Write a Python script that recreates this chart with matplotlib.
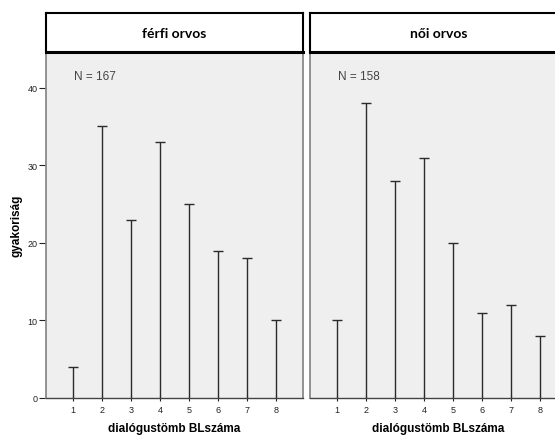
import matplotlib

matplotlib.use("Agg")
import matplotlib.pyplot as plt

categories = [1, 2, 3, 4, 5, 6, 7, 8]
ferfi_counts = [4, 35, 23, 33, 25, 19, 18, 10]
noi_counts = [10, 38, 28, 31, 20, 11, 12, 8]
panel_titles = ["férfi orvos", "női orvos"]
panel_n = ["N = 167", "N = 158"]
y_ticks = [0, 10, 20, 30, 40]

W, H = 555, 439
fig = plt.figure(figsize=(W / 100, H / 100), dpi=100)
fig.patch.set_facecolor("white")


def fx(px):
    return px / W


def fy(py):
    return 1 - py / H


plot_top, plot_bottom = 53, 399
header_top = 14
panel_lefts = [46, 310]
panel_width = 257

for i, (left, counts) in enumerate(zip(panel_lefts, [ferfi_counts, noi_counts])):
    ax = fig.add_axes([fx(left), fy(plot_bottom), fx(panel_width), (plot_bottom - plot_top) / H])
    ax.set_facecolor("#efefef")
    # spike lines with a small cap on top
    ax.vlines(categories, 0, counts, color="#2b2b2b", linewidth=1.0)
    ax.plot(categories, counts, linestyle="none", marker="_", markersize=7,
            markeredgewidth=1.0, color="#2b2b2b")
    ax.set_xlim(0.07, 8.93)
    ax.set_ylim(0, 44.6)
    ax.set_xticks(categories)
    ax.set_xticklabels([str(c) for c in categories], fontsize=6.5,
                       family="Liberation Sans", color="#222222")
    ax.tick_params(axis="x", length=4, width=0.8, direction="inout", color="#222222", pad=3)
    if i == 0:
        ax.set_yticks(y_ticks)
        ax.set_yticklabels([str(t) for t in y_ticks], fontsize=6.5,
                           family="Liberation Sans", color="#222222")
        ax.tick_params(axis="y", length=5, width=0.8, color="#222222", pad=1)
        ax.set_ylabel("gyakoriság", fontsize=8.5, fontweight="bold",
                      family="Liberation Sans", labelpad=4)
    else:
        ax.set_yticks([])
    for side in ["left", "right"]:
        ax.spines[side].set_color("#8a8a8a")
        ax.spines[side].set_linewidth(1.3)
    ax.spines["top"].set_visible(False)
    ax.spines["bottom"].set_color("#444444")
    ax.spines["bottom"].set_linewidth(1.0)
    ax.set_xlabel("dialógustömb BLszáma", fontsize=8.5, fontweight="bold",
                  family="Liberation Sans", labelpad=6)
    ax.text(0.108, 0.93, panel_n[i], transform=ax.transAxes, fontsize=8.5,
            family="Liberation Sans", color="#444444", va="center", ha="left")

    # header strip above each panel
    hx = fig.add_axes([fx(left), fy(plot_top), fx(panel_width), (plot_top - header_top) / H])
    hx.set_xticks([])
    hx.set_yticks([])
    hx.set_facecolor("white")
    for side in hx.spines.values():
        side.set_color("black")
        side.set_linewidth(1.5)
    hx.spines["bottom"].set_linewidth(2.2)
    hx.text(0.5, 0.5, panel_titles[i], transform=hx.transAxes, fontsize=10,
            fontweight="bold", family="Lato", ha="center", va="center")

fig.savefig("out.png", dpi=100)
